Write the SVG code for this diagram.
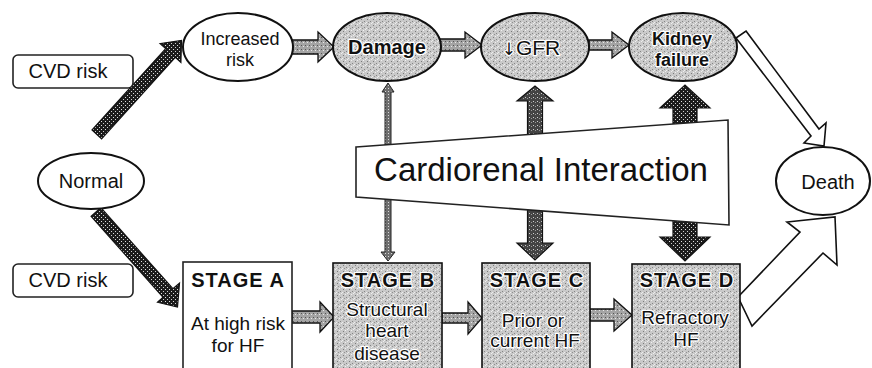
<svg xmlns="http://www.w3.org/2000/svg" width="872" height="368" viewBox="0 0 872 368">
<defs>
<pattern id="pLight" width="6" height="6" patternUnits="userSpaceOnUse">
<rect width="6" height="6" fill="#c9c9c9"/>
<rect x="1" y="1" width="1" height="1" fill="#7a7a7a"/>
<rect x="4" y="3" width="1" height="1" fill="#858585"/>
<rect x="2" y="4" width="1" height="1" fill="#909090"/>
<rect x="3" y="0" width="1" height="1" fill="#f0f0f0"/>
<rect x="0" y="4" width="1" height="1" fill="#eeeeee"/>
<rect x="5" y="5" width="1" height="1" fill="#eeeeee"/>
</pattern>
<pattern id="pArrow" width="4" height="4" patternUnits="userSpaceOnUse">
<rect width="4" height="4" fill="#a4a4a4"/>
<rect x="1" y="1" width="1" height="1" fill="#555"/>
<rect x="3" y="2" width="1" height="1" fill="#e8e8e8"/>
</pattern>
<pattern id="pDark" width="4" height="4" patternUnits="userSpaceOnUse">
<rect width="4" height="4" fill="#1c1c1c"/>
<rect x="1" y="1" width="1" height="1" fill="#e0e0e0"/>
<rect x="3" y="3" width="1" height="1" fill="#d0d0d0"/>
</pattern>
<pattern id="pMed" width="4" height="4" patternUnits="userSpaceOnUse">
<rect width="4" height="4" fill="#444"/>
<rect x="1" y="1" width="1" height="1" fill="#cfcfcf"/>
<rect x="3" y="2" width="1" height="1" fill="#9a9a9a"/>
</pattern>
<pattern id="pThin" width="3" height="3" patternUnits="userSpaceOnUse">
<rect width="3" height="3" fill="#6e6e6e"/>
<rect x="1" y="1" width="1" height="1" fill="#d8d8d8"/>
</pattern>
</defs>
<style>
text{font-family:"Liberation Sans",Arial,sans-serif;fill:#111;text-anchor:middle}
.w{fill:#fff;stroke:#111;stroke-width:2}
.g{fill:url(#pLight);stroke:#111;stroke-width:2}
.box{fill:#fff;stroke:#222;stroke-width:1.6}
.ha{fill:url(#pArrow);stroke:#111;stroke-width:1.3}
.dk{fill:url(#pDark);stroke:#111;stroke-width:1.2}
.md{fill:url(#pMed);stroke:#111;stroke-width:1.2}
.th{fill:url(#pThin);stroke:#222;stroke-width:1}
.open{fill:#fff;stroke:#111;stroke-width:1.6;stroke-linejoin:miter}
.t20{font-size:20px}
.t19{font-size:19px}
.b{font-weight:bold}
.halo{stroke:#fff;stroke-width:2.5;paint-order:stroke;stroke-linejoin:round}
</style>
<rect width="872" height="368" fill="#fff"/>

<g id="connectors">
<!-- Normal to Increased risk -->
<polygon class="dk" points="101.6,138.8 175.3,57.4 180.9,62.4 181.5,40.5 160.1,43.6 165.7,48.6 92,130"/>
<!-- Normal to Stage A -->
<polygon class="dk" points="100.9,207.7 172.9,288.7 179.5,283.2 177.5,307 157.5,302.3 163.1,297.3 91.1,216.3"/>
<!-- top row -->
<polygon class="ha" points="292,40 318,40 318,32 334,47 318,62 318,54 292,54"/>
<polygon class="ha" points="440,39 465,39 465,32 482,45 465,58 465,51 440,51"/>
<polygon class="ha" points="589,40 612,40 612,32 629,45 612,58 612,50 589,50"/>
<!-- bottom row -->
<polygon class="ha" points="292,311 320,311 320,302 334,317 320,332 320,323 292,323"/>
<polygon class="ha" points="442,313 468,313 468,302 482,318 468,334 468,323 442,323"/>
<polygon class="ha" points="590,309 614,309 614,299 632,315 614,331 614,321 590,321"/>
<!-- Cardiorenal vertical arrows -->
<polygon class="th" points="385,150 385,92 382,92 388,83 394,92 391,92 391,150"/>
<polygon class="th" points="385,190 385,252 381,252 388,261 395,252 391,252 391,190"/>
<polygon class="md" points="527.5,145 527.5,101 517,101 535,86 553,101 542.5,101 542.5,145"/>
<polygon class="md" points="527.5,200 527.5,243 517,243 535,260 553,243 542.5,243 542.5,200"/>
<polygon class="dk" points="673,135 673,108 660,108 685,85 710,108 697,108 697,135"/>
<polygon class="dk" points="673,210 673,237 660,237 685,261 710,237 697,237 697,210"/>
<!-- Kidney failure to Death -->
<polygon class="open" points="746,31 819,129 826,123 824,146 804,143 811,136 736,38"/>
<!-- Stage D to Death -->
<polygon class="open" points="738,297 800,232 787,222 835,217 837,265 823,253 752,326"/>
</g>

<g id="n-cvd-top">
<rect class="box" x="13" y="55" width="120" height="33" rx="5"/>
<text class="t20" x="68" y="78">CVD risk</text>
</g>
<g id="n-cvd-bottom">
<rect class="box" x="13" y="264" width="120" height="33" rx="5"/>
<text class="t20" x="68" y="287">CVD risk</text>
</g>
<g id="n-normal">
<ellipse class="w" cx="91" cy="181" rx="53" ry="28"/>
<text class="t20" x="91" y="188">Normal</text>
</g>
<g id="n-increased">
<ellipse class="w" cx="238" cy="47" rx="55" ry="34"/>
<text style="font-size:18px" x="240" y="45">Increased</text>
<text style="font-size:18px" x="240" y="66">risk</text>
</g>
<g id="n-damage">
<ellipse class="g" cx="387" cy="47" rx="54" ry="34"/>
<text class="t20 b halo" x="387" y="54">Damage</text>
</g>
<g id="n-gfr">
<ellipse class="g" cx="535" cy="47" rx="54" ry="34"/>
<text class="halo" style="font-size:21px" x="531" y="55"><tspan style="font-family:'DejaVu Sans',sans-serif;font-size:17px">↓</tspan>GFR</text>
</g>
<g id="n-kidney">
<ellipse class="g" cx="683" cy="47" rx="54" ry="34"/>
<text class="b halo" style="font-size:18px" x="682" y="45">Kidney</text>
<text class="b halo" style="font-size:18px" x="682" y="66">failure</text>
</g>
<g id="n-death">
<ellipse class="w" cx="823" cy="181" rx="47" ry="34"/>
<text class="t20" x="828" y="189">Death</text>
</g>
<g id="n-cardiorenal">
<polygon class="box" points="356,147 728,120 729,225 356,197"/>
<text style="font-size:33px" x="541" y="181">Cardiorenal Interaction</text>
</g>
<g id="n-stageA">
<rect class="box" x="183" y="262" width="109" height="112"/>
<text class="t20 b" style="letter-spacing:1px" x="238" y="287">STAGE  A</text>
<text class="t19" x="238" y="330">At high risk</text>
<text class="t19" x="238" y="352">for HF</text>
</g>
<g id="n-stageB">
<rect class="g" style="stroke-width:1.6" x="333" y="263" width="109" height="111"/>
<text class="t20 b halo" style="letter-spacing:1px" x="388" y="287">STAGE B</text>
<text class="t19 halo" x="387" y="316">Structural</text>
<text class="t19 halo" x="387" y="337">heart</text>
<text class="t19 halo" x="387" y="360">disease</text>
</g>
<g id="n-stageC">
<rect class="g" style="stroke-width:1.6" x="482" y="263" width="108" height="111"/>
<text class="t20 b halo" style="letter-spacing:1px" x="537" y="287">STAGE C</text>
<text class="t19 halo" x="533" y="327">Prior or</text>
<text class="t19 halo" x="535" y="347">current HF</text>
</g>
<g id="n-stageD">
<rect class="g" style="stroke-width:1.6" x="632" y="264" width="108" height="110"/>
<text class="t20 b halo" style="letter-spacing:1px" x="687" y="287">STAGE D</text>
<text class="t19 halo" x="685" y="324">Refractory</text>
<text class="t19 halo" x="686" y="346">HF</text>
</g>
</svg>
